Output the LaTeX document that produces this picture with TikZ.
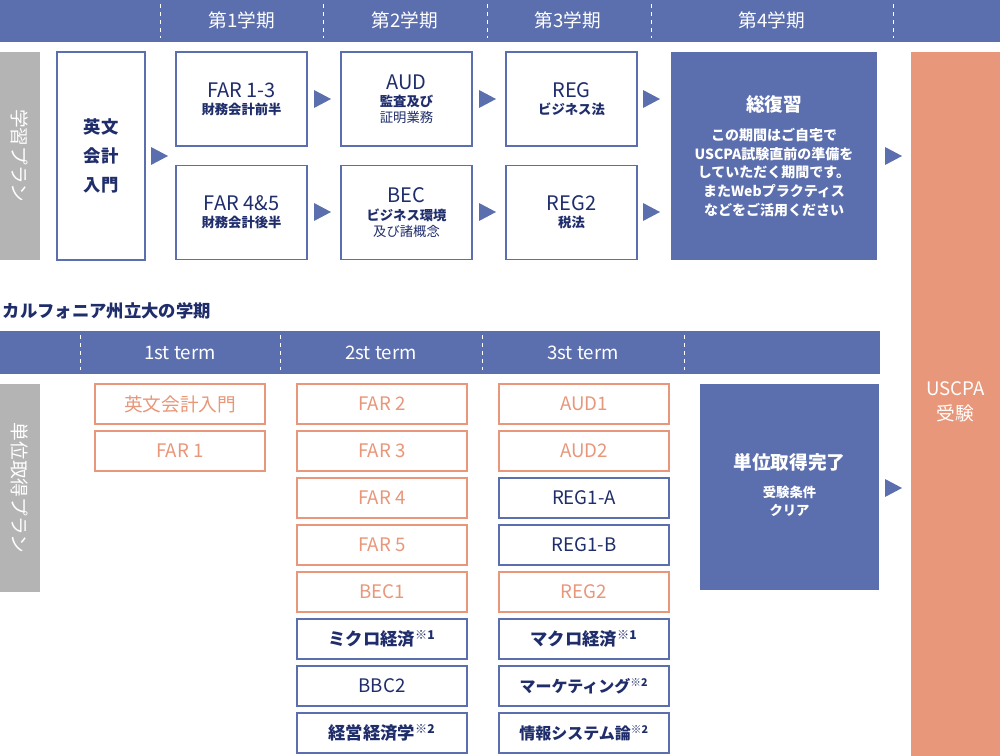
\documentclass[tikz,border=0pt]{standalone}
\usepackage{fontspec}
\setmainfont{Noto Sans CJK JP}
\begin{document}
\begin{tikzpicture}[x=0.75pt,y=-0.75pt,
  plan/.style={draw=bluec,line width=1.2pt,fill=white,align=center,inner sep=0},
  ob/.style={draw=orc,line width=1.2pt,fill=white,text=orc,minimum width=127.5pt,minimum height=30pt,inner sep=0,font=\fontsize{14}{16}\selectfont},
  bb/.style={ob,draw=bluec,text=textb},
  tri/.style={fill=bluec,draw=none},
  hd/.style={text=white,font=\fontsize{14}{16}\selectfont},
  sep/.style={white,dashed,line width=0.6pt}]
\definecolor{bluec}{HTML}{5B6EAE}
\definecolor{orc}{HTML}{E8977A}
\definecolor{grayc}{HTML}{B4B4B4}
\definecolor{textb}{HTML}{1F2D6B}
\useasboundingbox (0,0) rectangle (1000,756);
% top header
\fill[bluec] (0,0) rectangle (1000,42);
\foreach \x in {160,323,487,651,893} \draw[sep] (\x,4) -- (\x,38);
\node[hd] (h1) at (242,20) {第1学期};
\node[hd] (h2) at (405,20) {第2学期};
\node[hd] (h3) at (568,20) {第3学期};
\node[hd] (h4) at (772,20) {第4学期};
% left gray
\fill[grayc] (0,52) rectangle (40,260);
\node[text=white,rotate=-90,font=\fontsize{14}{16}\selectfont] (g1) at (20,156) {学習プラン};
% plan boxes
\node[plan,minimum width=66pt,minimum height=156pt,text=textb,font=\bfseries\fontsize{13}{22}\selectfont] (eb) at (101,156) {英文\\会計\\入門};
\newcommand{\planbox}[5]{\node[plan,minimum width=98pt,minimum height=70.5pt,text=textb] (#1) at (#2,#3) {\fontsize{15}{17}\selectfont #4\\[1pt]\bfseries\fontsize{10}{13}\selectfont #5};}
\planbox{far1}{241.5}{99}{FAR 1-3}{財務会計前半}
\planbox{far4}{241.5}{212.5}{FAR 4\&5}{財務会計後半}
\planbox{aud}{406.5}{99}{AUD}{監査及び\\証明業務}
\planbox{bec}{406.5}{212.5}{BEC}{ビジネス環境\\及び諸概念}
\planbox{reg}{571.5}{99}{REG}{ビジネス法}
\planbox{reg2}{571.5}{212.5}{REG2}{税法}
\fill[bluec] (671,52) rectangle (877,260);
\node[text=white,align=center,font=\bfseries\fontsize{10.5}{14}\selectfont] (rev) at (774,156) {\fontsize{14}{18}\selectfont 総復習\\[8pt]\fontsize{10.5}{14}\selectfont この期間はご自宅で\\USCPA試験直前の準備を\\していただく期間です。\\またWebプラクティス\\などをご活用ください};
% USCPA
\fill[orc] (911,52) rectangle (1000,756);
\node[text=white,align=center,font=\fontsize{14}{19}\selectfont] (us) at (955.5,402) {USCPA\\受験};
% triangles
\newcommand{\trimark}[2]{\fill[tri] (#1,#2-9) -- (#1+17,#2) -- (#1,#2+9) -- cycle;}
\trimark{151}{156}\trimark{314}{99}\trimark{314}{212}\trimark{479}{99}\trimark{479}{212}\trimark{643}{99}\trimark{643}{212}\trimark{885}{156}\trimark{885}{488}
% section title
\node[anchor=west,text=textb,font=\bfseries\fontsize{13}{15}\selectfont] (st) at (-2,311) {カルフォニア州立大の学期};
% second header
\fill[bluec] (0,331) rectangle (880,374);
\foreach \x in {80,280,482,684} \draw[sep] (\x,335) -- (\x,370);
\node[hd] (t1) at (180,352.5) {1st term};
\node[hd] (t2) at (381,352.5) {2st term};
\node[hd] (t3) at (583,352.5) {3st term};
\fill[grayc] (0,384) rectangle (40,592);
\node[text=white,rotate=-90,font=\fontsize{14}{16}\selectfont] (g2) at (20,488) {単位取得プラン};
% column 1
\node[ob] (c11) at (180,404) {英文会計入門};
\node[ob] (c12) at (180,451) {FAR 1};
% column 2
\node[ob] (c21) at (382,404) {FAR 2};
\node[ob] (c22) at (382,451) {FAR 3};
\node[ob] (c23) at (382,498) {FAR 4};
\node[ob] (c24) at (382,545) {FAR 5};
\node[ob] (c25) at (382,592) {BEC1};
\node[bb,font=\bfseries\fontsize{13}{15}\selectfont] (c26) at (382,639) {ミクロ経済\textsuperscript{※1}};
\node[bb] (c27) at (382,686) {BBC2};
\node[bb,font=\bfseries\fontsize{13}{15}\selectfont] (c28) at (382,733) {経営経済学\textsuperscript{※2}};
% column 3
\node[ob] (c31) at (584,404) {AUD1};
\node[ob] (c32) at (584,451) {AUD2};
\node[bb] (c33) at (584,498) {REG1-A};
\node[bb] (c34) at (584,545) {REG1-B};
\node[ob] (c35) at (584,592) {REG2};
\node[bb,font=\bfseries\fontsize{13}{15}\selectfont] (c36) at (584,639) {マクロ経済\textsuperscript{※1}};
\node[bb,font=\bfseries\fontsize{12}{15}\selectfont] (c37) at (584,686) {マーケティング\textsuperscript{※2}};
\node[bb,font=\bfseries\fontsize{12}{15}\selectfont] (c38) at (584,733) {情報システム論\textsuperscript{※2}};
% done box
\fill[bluec] (700,384) rectangle (879,590);
\node[text=white,align=center,font=\bfseries\fontsize{10}{13}\selectfont] (done) at (789.5,485) {\fontsize{14}{18}\selectfont 単位取得完了\\[8pt]\fontsize{10}{13}\selectfont 受験条件\\クリア};
\end{tikzpicture}
\end{document}
